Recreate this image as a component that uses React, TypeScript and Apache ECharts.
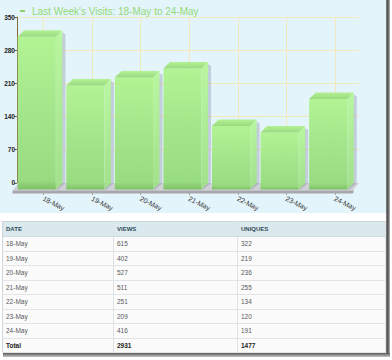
import React, { useEffect, useRef } from 'react';
import * as echarts from 'echarts';

const categories = ['18-May', '19-May', '20-May', '21-May', '22-May', '23-May', '24-May'];
const views = [615, 402, 527, 511, 251, 209, 416];
const uniques = [322, 219, 236, 255, 134, 120, 191];
const yTicks = [0, 70, 140, 210, 280, 350];
const titleText = "Last Week's Visits: 18-May to 24-May";
const tableHeaders = ['DATE', 'VIEWS', 'UNIQUES'];
const totalLabel = 'Total';
const totalViews = 2931;
const totalUniques = 1477;

const DEPTH = 6.5;
const GRID_COLOR = '#f3e7bd';

function Chart() {
  const ref = useRef<HTMLDivElement>(null);
  useEffect(() => {
    if (!ref.current) return;
    const chart = echarts.init(ref.current, null, { renderer: 'svg' });
    const yMin = yTicks[0];
    const yMax = yTicks[yTicks.length - 1];
    const yStep = yTicks[1] - yTicks[0];

    const gridSeries = {
      type: 'custom',
      name: 'grid',
      silent: true,
      data: categories.map((_, i) => [i, 0]),
      renderItem: (params: any, api: any) => {
        const i = api.value(0);
        const t = api.coord([i, yMax]);
        const b = api.coord([i, yMin]);
        const x = Math.round(t[0]) + 0.5;
        return {
          type: 'group',
          children: [
            { type: 'line', shape: { x1: x, y1: t[1], x2: x, y2: b[1] }, style: { stroke: GRID_COLOR, lineWidth: 1 } },
            { type: 'line', shape: { x1: x, y1: b[1] + 9, x2: x, y2: b[1] + 12 }, style: { stroke: '#9a9a9a', lineWidth: 1 } },
          ],
        };
      },
    };

    const floorSeries = {
      type: 'custom',
      name: 'floor',
      silent: true,
      data: [[0, 0]],
      renderItem: (params: any) => {
        const cs = params.coordSys;
        const x0 = cs.x;
        const x1 = cs.x + cs.width;
        const yb = cs.y + cs.height;
        const d = DEPTH;
        return {
          type: 'group',
          children: [
            {
              type: 'polygon',
              shape: { points: [[x0, yb], [x1, yb], [x1 - d, yb + d + 1], [x0 - d, yb + d + 1]] },
              style: { fill: '#cfd0d6' },
            },
            {
              type: 'polygon',
              shape: { points: [[x0 - d, yb + d + 1], [x1 - d, yb + d + 1], [x1 - d + 1, yb + d], [x1 - d + 1, yb + d + 3], [x1 - d, yb + d + 4], [x0 - d, yb + d + 4]] },
              style: { fill: '#a7a7ab' },
            },
          ],
        };
      },
    };

    const barSeries = {
      type: 'custom',
      name: titleText,
      itemStyle: { color: '#9be07e' },
      data: uniques.map((v, i) => [i, v]),
      renderItem: (params: any, api: any) => {
        const i = api.value(0);
        const v = api.value(1);
        const top = api.coord([i, v]);
        const base = api.coord([i, yMin]);
        const band = api.size([1, 0])[0];
        const w = band * 0.785;
        const d = DEPTH;
        const cx = top[0];
        const fx0 = cx - d - w / 2;
        const fx1 = cx - d + w / 2;
        const fyT = top[1] + d;
        const fyB = base[1] + d;
        return {
          type: 'group',
          children: [
            {
              type: 'polygon',
              shape: { points: [[fx1 + d, fyT - d + 2], [fx1 + d + 3, fyT - d + 4], [fx1 + d + 3, base[1]], [fx1 + 2, fyB], [fx1, fyB]] },
              style: { fill: 'rgba(120,120,150,0.30)' },
            },
            {
              type: 'rect',
              shape: { x: fx0, y: fyT, width: w, height: fyB - fyT },
              style: {
                fill: new echarts.graphic.LinearGradient(0, 0, 0, 1, [
                  { offset: 0, color: 'rgba(174,244,140,0.93)' },
                  { offset: 0.5, color: 'rgba(158,228,130,0.93)' },
                  { offset: 0.94, color: 'rgba(148,218,122,0.95)' },
                  { offset: 1, color: 'rgba(124,192,98,0.97)' },
                ]),
              },
            },
            {
              type: 'polygon',
              shape: { points: [[fx1, fyT], [fx1 + d, fyT - d], [fx1 + d, fyB - d], [fx1, fyB]] },
              style: {
                fill: new echarts.graphic.LinearGradient(0, 0, 0, 1, [
                  { offset: 0, color: 'rgba(182,246,152,0.92)' },
                  { offset: 1, color: 'rgba(160,226,134,0.92)' },
                ]),
              },
            },
            {
              type: 'polygon',
              shape: { points: [[fx0, fyT], [fx0 + d, fyT - d], [fx1 + d, fyT - d], [fx1, fyT]] },
              style: {
                fill: new echarts.graphic.LinearGradient(0, 0, 0, 1, [
                  { offset: 0, color: '#b3f294' },
                  { offset: 1, color: '#9ad97e' },
                ]),
              },
            },
          ],
        };
      },
    };

    chart.setOption({
      animation: false,
      backgroundColor: 'transparent',
      title: {
        text: titleText,
        left: 27,
        top: 1,
        textStyle: { color: '#93d977', fontSize: 10, fontWeight: 'normal', fontFamily: 'Liberation Sans' },
      },
      graphic: [
        { type: 'rect', shape: { x: 20, y: 10, width: 5, height: 2 }, style: { fill: '#8ed36e' } },
      ],
      grid: { left: 19, top: 17, width: 340, height: 169, containLabel: false },
      xAxis: {
        type: 'category',
        data: categories,
        boundaryGap: true,
        axisLine: { show: false },
        axisTick: { show: false },
        splitLine: { show: false },
        axisLabel: {
          interval: 0,
          rotate: -27,
          margin: 15,
          fontSize: 7,
          color: '#3a3a3a',
          fontFamily: 'Liberation Sans',
        },
      },
      yAxis: {
        type: 'value',
        min: yMin,
        max: yMax,
        interval: yStep,
        offset: 2,
        axisLine: { show: true, lineStyle: { color: '#8a6b3e', width: 1 } },
        axisTick: { show: true, length: 3, lineStyle: { color: '#8a6b3e' } },
        axisLabel: { fontSize: 6.5, fontWeight: 'bold', color: '#222', margin: 2, fontFamily: 'Liberation Sans' },
        splitLine: { show: true, lineStyle: { color: GRID_COLOR, width: 1 } },
      },
      series: [gridSeries, floorSeries, barSeries],
    });
    return () => chart.dispose();
  }, []);
  return <div ref={ref} style={{ width: 386, height: 213 }} />;
}

export default function App() {
  useEffect(() => {
    document.body.style.margin = '0';
  }, []);
  const rows = categories.map((c, i) => [c, String(views[i]), String(uniques[i])]);
  const colWidths = [111, 124, 148];
  const cellBase: React.CSSProperties = {
    borderRight: '1px solid #dfe3e5',
    borderBottom: '1px solid #e2e4e5',
    padding: '0 0 0 3px',
    fontFamily: 'Liberation Sans, Arial, sans-serif',
    fontSize: 6.5,
    color: '#5a5a5a',
    whiteSpace: 'nowrap',
    overflow: 'hidden',
    textAlign: 'left',
  };
  return (
    <div style={{ position: 'fixed', left: 0, top: 0, width: 392, height: 360, background: '#ffffff', overflow: 'hidden' }}>
      <div style={{ position: 'absolute', left: 0, top: 0, width: 386, height: 213, background: '#e4f4fb' }}>
        <Chart />
      </div>
      <div style={{ position: 'absolute', left: 386, top: 0, width: 4, height: 357, background: 'linear-gradient(to right, #8a8a8a, #4a4a4a 45%, #bdbdbd)' }} />
      <div style={{ position: 'absolute', left: 3, top: 353, width: 387, height: 4, background: 'linear-gradient(to bottom, #5a5a5a, #c4c4c4)' }} />
      <table
        style={{
          position: 'absolute',
          left: 2,
          top: 221,
          width: 384,
          borderCollapse: 'collapse',
          tableLayout: 'fixed',
          border: '1px solid #cfd6d9',
          background: '#fbfbfb',
        }}
      >
        <colgroup>
          {colWidths.map((w, i) => (
            <col key={i} style={{ width: w }} />
          ))}
        </colgroup>
        <thead>
          <tr style={{ height: 15, background: '#d9e9ee' }}>
            {tableHeaders.map((h) => (
              <th key={h} style={{ ...cellBase, fontWeight: 'bold', fontSize: 6, color: '#34495a', borderBottom: '1px solid #cfdde2' }}>{h}</th>
            ))}
          </tr>
        </thead>
        <tbody>
          {rows.map((r) => (
            <tr key={r[0]} style={{ height: 14.5 }}>
              {r.map((v, j) => (
                <td key={j} style={cellBase}>{v}</td>
              ))}
            </tr>
          ))}
          <tr style={{ height: 14.5 }}>
            {[totalLabel, String(totalViews), String(totalUniques)].map((v, j) => (
              <td key={j} style={{ ...cellBase, fontWeight: 'bold', color: '#222' }}>{v}</td>
            ))}
          </tr>
        </tbody>
      </table>
    </div>
  );
}
